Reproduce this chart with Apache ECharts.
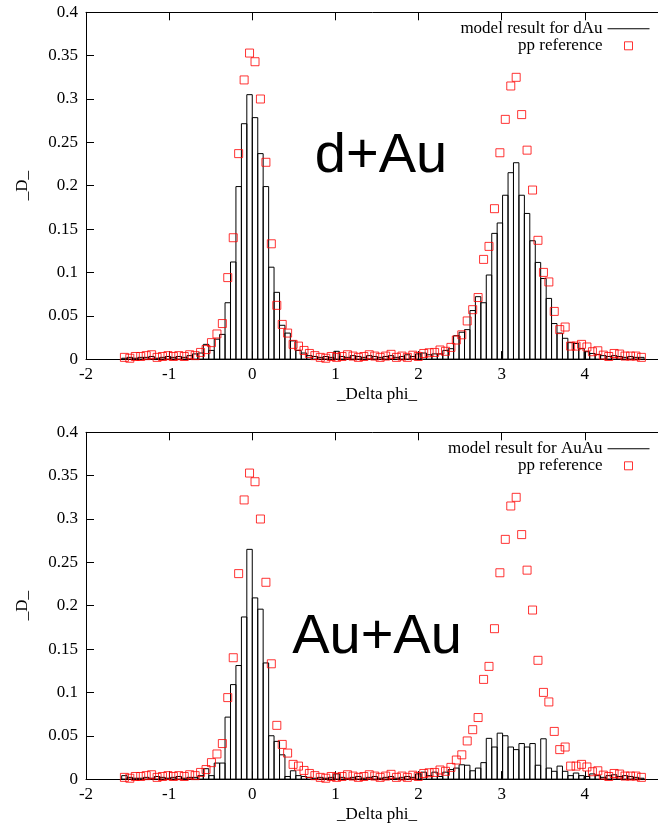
<!DOCTYPE html>
<html><head><meta charset="utf-8">
<script src="https://cdn.jsdelivr.net/npm/echarts@6/dist/echarts.min.js"></script>
<style>html,body{margin:0;padding:0;background:#fff}#c{width:658px;height:827px}</style>
</head><body><div id="c"></div>
<script>
// bin centres (96 bins over -pi/2 .. 3pi/2)
const binCenters = [-1.538,-1.473,-1.407,-1.342,-1.276,-1.211,-1.145,-1.080,-1.014,-0.949,
  -0.884,-0.818,-0.753,-0.687,-0.622,-0.556,-0.491,-0.425,-0.360,-0.295,
  -0.229,-0.164,-0.098,-0.033,0.033,0.098,0.164,0.229,0.295,0.360,
  0.425,0.491,0.556,0.622,0.687,0.753,0.818,0.884,0.949,1.014,
  1.080,1.145,1.211,1.276,1.342,1.407,1.473,1.538,1.604,1.669,
  1.734,1.800,1.865,1.931,1.996,2.062,2.127,2.193,2.258,2.324,
  2.389,2.454,2.520,2.585,2.651,2.716,2.782,2.847,2.913,2.978,
  3.043,3.109,3.174,3.240,3.305,3.371,3.436,3.502,3.567,3.632,
  3.698,3.763,3.829,3.894,3.960,4.025,4.091,4.156,4.222,4.287,
  4.352,4.418,4.483,4.549,4.614,4.680];

const dAuModel = [0.001,0.002,0.001,0.002,0.002,0.003,0.001,0.002,0.003,0.002,
  0.003,0.002,0.004,0.006,0.007,0.017,0.010,0.023,0.0285,0.065,
  0.112,0.199,0.2715,0.305,0.2785,0.237,0.199,0.106,0.077,0.039,
  0.030,0.021,0.010,0.007,0.004,0.003,0.002,0.003,0.002,0.009,
  0.003,0.002,0.004,0.003,0.002,0.004,0.003,0.002,0.003,0.004,
  0.002,0.003,0.005,0.003,0.006,0.007,0.005,0.006,0.006,0.010,
  0.012,0.027,0.031,0.034,0.056,0.072,0.065,0.097,0.145,0.157,
  0.189,0.215,0.2265,0.189,0.168,0.1365,0.1115,0.093,0.070,0.041,
  0.030,0.024,0.019,0.018,0.012,0.0085,0.0065,0.0054,0.004,0.003,
  0.004,0.003,0.002,0.003,0.002,0.002];

const AuAuModel = [0.004,0.002,0.001,0.001,0.002,0.001,0.003,0.002,0.001,0.002,
  0.003,0.001,0.002,0.002,0.004,0.012,0.004,0.0185,0.0185,0.0715,
  0.109,0.131,0.187,0.265,0.209,0.196,0.134,0.050,0.0435,0.028,
  0.003,0.0096,0.004,0.003,0.002,0.001,0.002,0.001,0.002,0.006,
  0.002,0.001,0.002,0.003,0.001,0.002,0.003,0.001,0.002,0.003,
  0.001,0.002,0.003,0.002,0.006,0.008,0.004,0.008,0.003,0.008,
  0.011,0.0127,0.0165,0.016,0.0096,0.0127,0.019,0.047,0.037,0.053,
  0.050,0.037,0.034,0.041,0.037,0.041,0.016,0.0465,0.0127,0.009,
  0.015,0.009,0.004,0.007,0.004,0.003,0.006,0.004,0.002,0.004,
  0.005,0.003,0.004,0.003,0.002,0.001];

const ppReference = [0.002,0.001,0.003,0.003,0.004,0.005,0.002,0.003,0.004,0.003,
  0.004,0.003,0.005,0.004,0.0077,0.011,0.019,0.029,0.041,0.094,
  0.140,0.237,0.322,0.353,0.343,0.300,0.227,0.133,0.062,0.040,
  0.030,0.017,0.015,0.010,0.0065,0.004,0.002,0.001,0.003,0.002,
  0.003,0.005,0.0035,0.002,0.003,0.005,0.0035,0.002,0.0035,0.0055,
  0.002,0.0035,0.002,0.0045,0.003,0.0065,0.0073,0.0077,0.0105,0.009,
  0.0135,0.022,0.028,0.044,0.057,0.071,0.115,0.130,0.1735,0.238,
  0.2765,0.315,0.325,0.282,0.241,0.195,0.137,0.100,0.089,0.055,
  0.034,0.037,0.015,0.015,0.017,0.014,0.0085,0.0096,0.0046,0.003,
  0.0065,0.0058,0.0035,0.0035,0.0035,0.002];

const xTickValues = [-2,-1,0,1,2,3,4,5];
const yTickValues = [0,0.05,0.1,0.15,0.2,0.25,0.3,0.35,0.4];
const modelNames = ['model result for dAu','model result for AuAu'];
const panelLabels = ['d+Au','Au+Au'];
const ppName = 'pp reference';
const xTitle = '_Delta phi_';
const yTitle = '_D_';

const BIN_WIDTH = 0.06545;
const SERIF = "'Liberation Serif','DejaVu Serif',serif";
const gridTops = [12.3, 432.3];
const GRID_H = 346.8;

const chart = echarts.init(document.getElementById('c'), null, {renderer:'canvas'});

function pairs(xs, ys){ return xs.map((x,i)=>[x, ys[i]]); }

const option = {
  animation:false,
  backgroundColor:'#fff',
  grid:[], xAxis:[], yAxis:[], series:[], legend:[], graphic:[]
};

[dAuModel, AuAuModel].forEach((model, g) => {
  option.grid.push({left:86, top:gridTops[g], width:582, height:GRID_H, show:false,
    containLabel:false, outerBoundsMode:'none'});
  const xCommon = {
    gridIndex:g, type:'value', min:xTickValues[0], max:xTickValues[xTickValues.length-1],
    interval:xTickValues[1]-xTickValues[0],
    splitLine:{show:false},
    axisLine:{show:true, onZero:false, lineStyle:{color:'#000', width:1}},
    axisTick:{show:true, inside:true, length:8, lineStyle:{color:'#000', width:1}}
  };
  option.xAxis.push(Object.assign({}, xCommon, {
    position:'bottom',
    axisLabel:{show:true, margin:7, color:'#000', fontFamily:SERIF, fontSize:17, showMaxLabel:false},
    name:xTitle, nameLocation:'middle', nameGap:27,
    nameTextStyle:{color:'#000', fontFamily:SERIF, fontSize:17}
  }));
  option.xAxis.push(Object.assign({}, xCommon, {position:'top', axisLabel:{show:false}}));
  option.yAxis.push({
    gridIndex:g, type:'value', min:yTickValues[0], max:yTickValues[yTickValues.length-1],
    interval:yTickValues[1]-yTickValues[0], position:'left',
    splitLine:{show:false},
    axisLine:{show:true, onZero:false, lineStyle:{color:'#000', width:1}},
    axisTick:{show:true, inside:true, length:8, lineStyle:{color:'#000', width:1}},
    axisLabel:{show:true, margin:8, color:'#000', fontFamily:SERIF, fontSize:17},
    name:yTitle, nameLocation:'middle', nameGap:55,
    nameTextStyle:{color:'#000', fontFamily:SERIF, fontSize:17}
  });
  option.series.push({
    type:'custom', name:modelNames[g], xAxisIndex:g*2, yAxisIndex:g, z:2,
    data:pairs(binCenters, model),
    encode:{x:0, y:1},
    renderItem:function(params, api){
      const x = api.value(0), y = api.value(1);
      const p0 = api.coord([x - BIN_WIDTH/2, y]);
      const p1 = api.coord([x + BIN_WIDTH/2, 0]);
      return {type:'rect', shape:{x:p0[0], y:p0[1], width:p1[0]-p0[0], height:p1[1]-p0[1]},
        style:{fill:'none', stroke:'#000', lineWidth:1}};
    }
  });
  option.series.push({
    type:'scatter', name:ppName, xAxisIndex:g*2, yAxisIndex:g, z:3,
    data:pairs(binCenters, ppReference),
    symbol:'rect', symbolSize:8,
    itemStyle:{color:'rgba(0,0,0,0)', borderColor:'#ff0000', borderWidth:1},
    emphasis:{disabled:true}
  });
  option.legend.push({
    orient:'vertical', align:'right', right:8, top:gridTops[g]+8,
    padding:0, itemGap:0, itemWidth:42, itemHeight:8, selectedMode:false,
    textStyle:{fontFamily:SERIF, fontSize:17, color:'#000', lineHeight:13.5},
    data:[
      {name:modelNames[g], icon:'path://M0,0H42V1H0Z', itemStyle:{color:'#000', borderWidth:0}},
      {name:ppName, icon:'path://M0,4L0,4M17,0H25V8H17ZM42,4L42,4',
       itemStyle:{color:'rgba(0,0,0,0)', borderColor:'#ff0000', borderWidth:1}}
    ]
  });
  option.graphic.push({
    type:'text', x:[381,377][g], y:[157,637.5][g], z:10,
    style:{text:panelLabels[g], fontFamily:"'Liberation Sans',Arial,sans-serif", fontSize:56,
      fill:'#000', align:'center', verticalAlign:'middle'}
  });
});

chart.setOption(option);
</script>
</body></html>
